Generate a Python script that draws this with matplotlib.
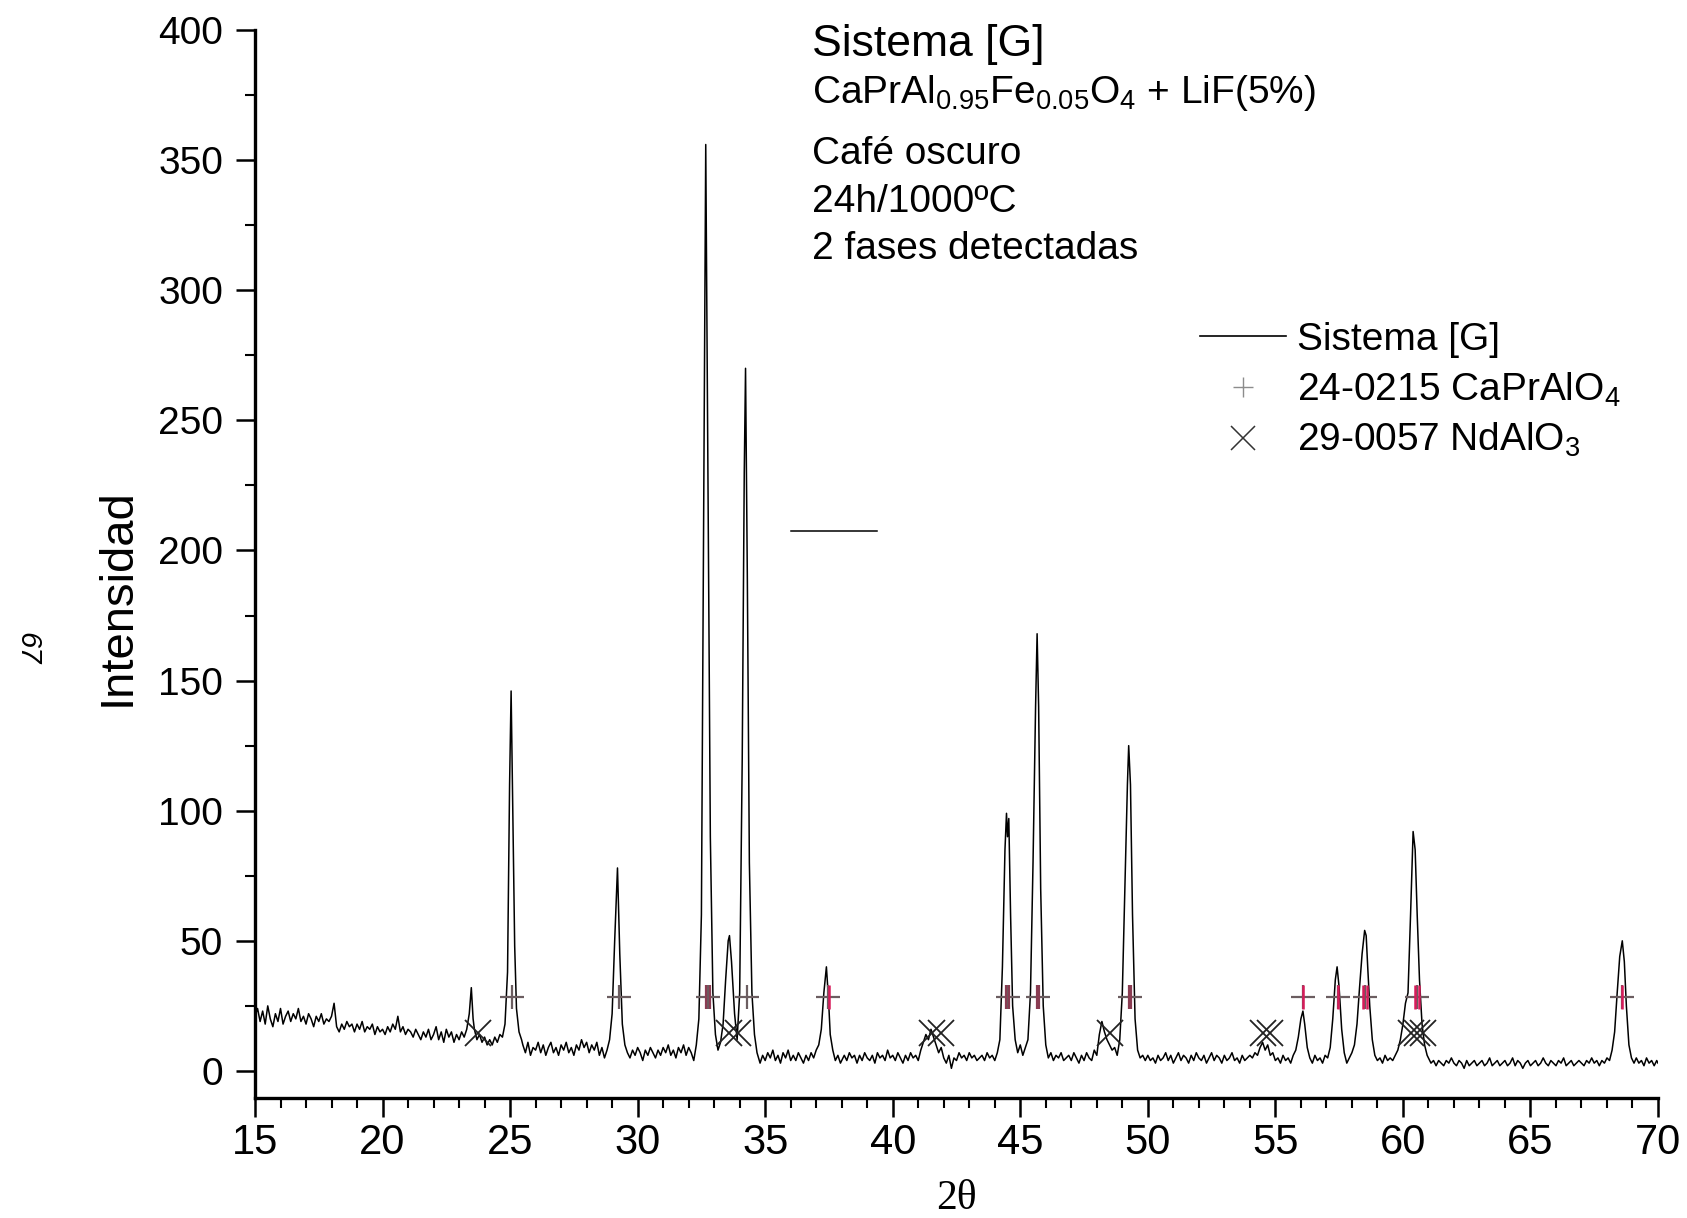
import numpy as np
import matplotlib.pyplot as plt
from matplotlib.lines import Line2D

plt.rcParams['font.family'] = ['Liberation Sans', 'DejaVu Sans']
plt.rcParams['mathtext.fontset'] = 'custom'
plt.rcParams['mathtext.rm'] = 'Liberation Sans'
plt.rcParams['mathtext.it'] = 'Liberation Sans:italic'
plt.rcParams['mathtext.bf'] = 'Liberation Sans:bold'

scan_15_25 = [
    (15.0, 21), (15.1, 24), (15.2, 19), (15.3, 23), (15.4, 18), (15.5, 25), (15.6, 20), (15.7, 17),
    (15.8, 22), (15.9, 19), (16.0, 24), (16.1, 18), (16.2, 21), (16.3, 23), (16.4, 19), (16.5, 22),
    (16.6, 20), (16.7, 24), (16.8, 19), (16.9, 21), (17.0, 18), (17.1, 22), (17.2, 20), (17.3, 17),
    (17.4, 21), (17.5, 19), (17.6, 22), (17.7, 18), (17.8, 20), (17.9, 19), (18.0, 21), (18.1, 26),
    (18.2, 17), (18.3, 15), (18.4, 18), (18.5, 16), (18.6, 19), (18.7, 17), (18.8, 18), (18.9, 15),
    (19.0, 18), (19.1, 16), (19.2, 19), (19.3, 15), (19.4, 17), (19.5, 16), (19.6, 18), (19.7, 14),
    (19.8, 17), (19.9, 15), (20.0, 16), (20.1, 14), (20.2, 17), (20.3, 15), (20.4, 18), (20.5, 16),
    (20.6, 21), (20.7, 15), (20.8, 17), (20.9, 14), (21.0, 16), (21.1, 15), (21.2, 13), (21.3, 16),
    (21.4, 14), (21.5, 12), (21.6, 15), (21.7, 13), (21.8, 16), (21.9, 12), (22.0, 14), (22.1, 17),
    (22.2, 12), (22.3, 15), (22.4, 11), (22.5, 16), (22.6, 13), (22.7, 15), (22.8, 11), (22.9, 14),
    (23.0, 12), (23.1, 15), (23.2, 13), (23.3, 16), (23.4, 22), (23.48, 32), (23.55, 20), (23.6, 16),
    (23.7, 12), (23.8, 14), (23.9, 11), (24.0, 13), (24.1, 10), (24.2, 12), (24.3, 10), (24.4, 13),
    (24.5, 11), (24.6, 14), (24.7, 13), (24.8, 18), (24.9, 38), (24.98, 110), (25.04, 146),
    (25.1, 105), (25.18, 48), (25.25, 24), (25.35, 15), (25.45, 12),
]
scan_25_38 = [
    (25.5, 10), (25.6, 7), (25.7, 11), (25.8, 6), (25.9, 9), (26.0, 8), (26.1, 11), (26.2, 7),
    (26.3, 10), (26.4, 6), (26.5, 9), (26.6, 11), (26.7, 7), (26.8, 9), (26.9, 6), (27.0, 10),
    (27.1, 8), (27.2, 11), (27.3, 7), (27.4, 9), (27.5, 6), (27.6, 10), (27.7, 8), (27.8, 12),
    (27.9, 9), (28.0, 11), (28.1, 7), (28.2, 10), (28.3, 8), (28.4, 11), (28.5, 6), (28.6, 9),
    (28.7, 5), (28.8, 8), (28.9, 12), (29.0, 22), (29.1, 50), (29.21, 78), (29.3, 45), (29.4, 18),
    (29.5, 10), (29.6, 7), (29.7, 5), (29.8, 8), (29.9, 6), (30.0, 9), (30.1, 7), (30.2, 4),
    (30.3, 8), (30.4, 6), (30.5, 9), (30.6, 7), (30.7, 5), (30.8, 8), (30.9, 6), (31.0, 9),
    (31.1, 7), (31.2, 10), (31.3, 6), (31.4, 8), (31.5, 5), (31.6, 9), (31.7, 7), (31.8, 10),
    (31.9, 6), (32.0, 9), (32.1, 7), (32.2, 4), (32.3, 10), (32.4, 20), (32.5, 60), (32.58, 200),
    (32.67, 356), (32.76, 220), (32.85, 90), (32.95, 30), (33.05, 14), (33.15, 8), (33.25, 11),
    (33.35, 18), (33.45, 35), (33.55, 50), (33.6, 52), (33.68, 42), (33.8, 22), (33.9, 12),
    (34.0, 30), (34.1, 120), (34.18, 230), (34.23, 270), (34.3, 190), (34.38, 80), (34.48, 30),
    (34.58, 14), (34.68, 7), (34.8, 3), (34.9, 6), (35.0, 4), (35.1, 7), (35.2, 5), (35.3, 8),
    (35.4, 4), (35.5, 6), (35.6, 3), (35.7, 7), (35.8, 5), (35.9, 8), (36.0, 4), (36.1, 6),
    (36.2, 4), (36.3, 7), (36.4, 5), (36.5, 3), (36.6, 6), (36.7, 4), (36.8, 7), (36.9, 5),
    (37.0, 8), (37.1, 10), (37.2, 16), (37.3, 30), (37.4, 40), (37.48, 28), (37.55, 14),
    (37.65, 8), (37.75, 4), (37.85, 6), (37.95, 3),
]
scan_38_50 = [
    (38.1, 6), (38.2, 4), (38.3, 7), (38.4, 5), (38.5, 6), (38.6, 3), (38.7, 6), (38.8, 4),
    (38.9, 7), (39.0, 5), (39.1, 4), (39.2, 6), (39.3, 3), (39.4, 7), (39.5, 5), (39.6, 6),
    (39.7, 4), (39.8, 8), (39.9, 5), (40.0, 6), (40.1, 4), (40.2, 7), (40.3, 5), (40.4, 3),
    (40.5, 6), (40.6, 4), (40.7, 7), (40.8, 5), (40.9, 6), (41.0, 4), (41.1, 8), (41.2, 11),
    (41.3, 14), (41.4, 12), (41.5, 16), (41.6, 13), (41.7, 10), (41.8, 7), (41.9, 9), (42.0, 5),
    (42.1, 3), (42.2, 6), (42.3, 1), (42.4, 5), (42.5, 4), (42.6, 7), (42.7, 5), (42.8, 6),
    (42.9, 4), (43.0, 7), (43.1, 5), (43.2, 6), (43.3, 4), (43.4, 5), (43.5, 6), (43.6, 4),
    (43.7, 7), (43.8, 5), (43.9, 6), (44.0, 4), (44.1, 7), (44.2, 12), (44.3, 40), (44.4, 85),
    (44.46, 99), (44.5, 90), (44.55, 97), (44.62, 60), (44.7, 25), (44.8, 12), (44.9, 7),
    (45.0, 10), (45.1, 6), (45.2, 9), (45.3, 12), (45.4, 30), (45.5, 80), (45.6, 140),
    (45.66, 168), (45.72, 140), (45.8, 70), (45.9, 25), (46.0, 10), (46.1, 5), (46.2, 7),
    (46.3, 4), (46.4, 6), (46.5, 5), (46.6, 7), (46.7, 4), (46.8, 5), (46.9, 6), (47.0, 4),
    (47.1, 7), (47.2, 5), (47.3, 3), (47.4, 6), (47.5, 4), (47.6, 7), (47.7, 5), (47.8, 4),
    (47.9, 8), (48.0, 6), (48.1, 14), (48.2, 19), (48.3, 15), (48.4, 12), (48.5, 10), (48.6, 8),
    (48.7, 9), (48.8, 6), (48.9, 12), (49.0, 30), (49.1, 70), (49.2, 110), (49.25, 125),
    (49.32, 110), (49.4, 60), (49.5, 20), (49.6, 8), (49.7, 5), (49.8, 6), (49.9, 4),
]
scan_50_61 = [
    (50.0, 6), (50.1, 4), (50.2, 5), (50.3, 3), (50.4, 6), (50.5, 4), (50.6, 5), (50.7, 7),
    (50.8, 4), (50.9, 6), (51.0, 3), (51.1, 5), (51.2, 7), (51.3, 4), (51.4, 6), (51.5, 5),
    (51.6, 3), (51.7, 6), (51.8, 4), (51.9, 7), (52.0, 5), (52.1, 4), (52.2, 6), (52.3, 3),
    (52.4, 5), (52.5, 7), (52.6, 4), (52.7, 6), (52.8, 5), (52.9, 3), (53.0, 6), (53.1, 4),
    (53.2, 5), (53.3, 7), (53.4, 4), (53.5, 5), (53.6, 3), (53.7, 6), (53.8, 4), (53.9, 5),
    (54.0, 6), (54.1, 5), (54.2, 7), (54.3, 6), (54.4, 9), (54.5, 11), (54.6, 8), (54.7, 10),
    (54.8, 6), (54.9, 7), (55.0, 4), (55.1, 5), (55.2, 3), (55.3, 6), (55.4, 4), (55.5, 5),
    (55.6, 3), (55.7, 6), (55.8, 8), (55.9, 13), (56.0, 20), (56.08, 23), (56.15, 18),
    (56.25, 9), (56.35, 5), (56.45, 3), (56.55, 6), (56.65, 4), (56.75, 5), (56.85, 3),
    (56.95, 6), (57.05, 5), (57.15, 9), (57.25, 20), (57.35, 35), (57.42, 40), (57.5, 32),
    (57.6, 16), (57.7, 7), (57.8, 3), (57.9, 5), (58.0, 7), (58.1, 10), (58.2, 18), (58.3, 32),
    (58.4, 45), (58.5, 54), (58.56, 52), (58.62, 40), (58.7, 25), (58.8, 12), (58.9, 6),
    (59.0, 4), (59.1, 5), (59.2, 3), (59.3, 6), (59.4, 4), (59.5, 5), (59.6, 4), (59.7, 6),
    (59.8, 8), (59.9, 12), (60.0, 18), (60.1, 26), (60.2, 30), (60.3, 60), (60.4, 92),
    (60.48, 85), (60.56, 60), (60.65, 35), (60.75, 18), (60.85, 10), (60.95, 6), (61.05, 4),
]
scan_61_70 = [
    (61.1, 3), (61.2, 4), (61.3, 2), (61.4, 4), (61.5, 3), (61.6, 2), (61.7, 4), (61.8, 3),
    (61.9, 5), (62.0, 3), (62.1, 2), (62.2, 4), (62.3, 3), (62.4, 1), (62.5, 4), (62.6, 2),
    (62.7, 3), (62.8, 4), (62.9, 2), (63.0, 3), (63.1, 4), (63.2, 2), (63.3, 3), (63.4, 5),
    (63.5, 2), (63.6, 3), (63.7, 4), (63.8, 2), (63.9, 3), (64.0, 4), (64.1, 2), (64.2, 3),
    (64.3, 5), (64.4, 2), (64.5, 4), (64.6, 3), (64.7, 1), (64.8, 3), (64.9, 4), (65.0, 2),
    (65.1, 3), (65.2, 4), (65.3, 2), (65.4, 3), (65.5, 5), (65.6, 3), (65.7, 2), (65.8, 4),
    (65.9, 3), (66.0, 2), (66.1, 4), (66.2, 3), (66.3, 5), (66.4, 2), (66.5, 3), (66.6, 4),
    (66.7, 2), (66.8, 3), (66.9, 4), (67.0, 3), (67.1, 2), (67.2, 4), (67.3, 3), (67.4, 5),
    (67.5, 3), (67.6, 4), (67.7, 2), (67.8, 4), (67.9, 3), (68.0, 5), (68.1, 4), (68.2, 8),
    (68.3, 15), (68.4, 30), (68.5, 44), (68.6, 50), (68.68, 42), (68.76, 25), (68.86, 10),
    (68.96, 5), (69.06, 3), (69.15, 5), (69.25, 3), (69.35, 4), (69.45, 2), (69.55, 5),
    (69.65, 3), (69.75, 4), (69.85, 2), (69.95, 4), (70.0, 3),
]

# reference card positions
caprealo4_pos = [25.08, 29.25, 32.75, 34.3, 37.45, 44.5, 45.7, 49.3, 56.1, 57.45, 58.5, 60.55, 68.6]
caprealo4_level = 28.5
caprealo4_dim_lines = [32.68, 32.84, 44.45, 44.55, 45.65, 45.75, 49.25, 49.35]
caprealo4_red_lines = [37.5, 56.1, 57.45, 58.42, 58.58, 60.47, 60.63, 68.6]
ndalo3_pos = [23.75, 33.6, 33.95, 41.55, 41.9, 48.5, 54.5, 54.8, 60.3, 60.55, 60.8]
ndalo3_level = 14.5

stray_x = [36.0, 39.4]
stray_y = [207.6, 207.6]

info_lines = ['Sistema [G]',
              'CaPrAl$_{0.95}$Fe$_{0.05}$O$_4$ + LiF(5%)',
              'Café oscuro',
              '24h/1000ºC',
              '2 fases detectadas']

scan = np.array(scan_15_25 + scan_25_38 + scan_38_50 + scan_50_61 + scan_61_70)
two_theta = scan[:, 0]
intensity = scan[:, 1]

W, H = 1687, 1218
fig = plt.figure(figsize=(W / 100, H / 100), dpi=100)
ax = fig.add_axes([255 / W, 1 - 1098 / H, (1658 - 255) / W, (1098 - 30) / H])

ax.plot(two_theta, intensity, color='black', lw=1.1, zorder=3)
ax.plot(stray_x, stray_y, color='black', lw=1.1)

ax.plot(caprealo4_pos, [caprealo4_level] * len(caprealo4_pos), ls='none', marker='+',
        ms=17, mew=1.6, color='#6b5d60', zorder=4)
ax.plot(caprealo4_dim_lines, [caprealo4_level] * len(caprealo4_dim_lines), ls='none',
        marker='|', ms=17, mew=1.6, color='#8a3c52', zorder=5)
ax.plot(caprealo4_red_lines, [caprealo4_level] * len(caprealo4_red_lines), ls='none',
        marker='|', ms=17, mew=1.8, color='#d81b5a', zorder=5)
ax.plot(ndalo3_pos, [ndalo3_level] * len(ndalo3_pos), ls='none', marker='x',
        ms=19, mew=1.3, color='#222222', zorder=4)

ax.set_xlim(15, 70)
ax.set_ylim(-10.4, 400)
ax.set_xticks(np.arange(15, 71, 5))
ax.set_xticks(np.arange(15, 71, 1), minor=True)
ax.set_yticks(np.arange(0, 401, 50))
ax.set_yticks(np.arange(0, 401, 25), minor=True)

for s in ['top', 'right']:
    ax.spines[s].set_visible(False)
for s in ['left', 'bottom']:
    ax.spines[s].set_linewidth(2.4)

ax.tick_params(axis='both', which='major', direction='out', length=14, width=1.8)
ax.tick_params(axis='both', which='minor', direction='out', length=7, width=1.5)
ax.tick_params(axis='y', which='major', labelsize=28, pad=9)
ax.tick_params(axis='x', which='major', labelsize=30, pad=4)

ax.set_xlabel('2θ', fontfamily=['Liberation Serif', 'DejaVu Serif'], fontsize=30, labelpad=12)
ax.set_ylabel('Intensidad', fontsize=34, va='center')
ax.yaxis.set_label_coords(118 / W, 1 - 597 / H, transform=fig.transFigure)

# info block
baselines = [56, 103, 164, 212, 259]
sizes = [32, 28, 28, 28, 28]
for txt, yb, fs in zip(info_lines, baselines, sizes):
    fig.text(812 / W, 1 - yb / H, txt, fontsize=fs, va='baseline', ha='left')

# page number
fig.text(27 / W, 1 - 648 / H, '67', fontsize=21, style='italic', rotation=-90,
         ha='center', va='center')

handles = [Line2D([], [], color='black', lw=1.2),
           Line2D([], [], ls='none', marker='+', ms=15, mew=1.0, color='#8c8c8c'),
           Line2D([], [], ls='none', marker='x', ms=17, mew=1.1, color='#333333')]
labels = ['Sistema [G]', '24-0215 CaPrAlO$_4$', '29-0057 NdAlO$_3$']
fig.legend(handles, labels, loc='upper left', bbox_to_anchor=(1200 / W, 1 - 322 / H),
           frameon=False, fontsize=28, borderpad=0, borderaxespad=0,
           handlelength=2.2, handletextpad=0.3, labelspacing=0.32)

fig.savefig('out.png', dpi=100)
